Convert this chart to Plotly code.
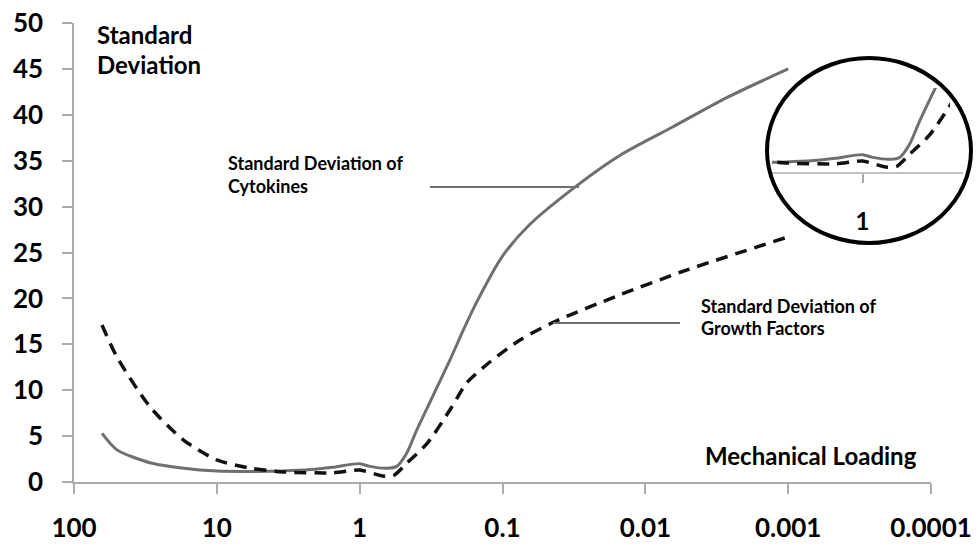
import plotly.graph_objects as go

W, H = 980, 549

# ---- data ----
cyto_x = [63.7, 50, 29.4, 17, 10, 5.8, 3.44, 2.2, 1.55, 1.0, 0.85, 0.64, 0.55, 0.47, 0.4,
          0.3, 0.23, 0.19, 0.155, 0.1, 0.065, 0.0295, 0.015, 0.0064, 0.00267, 0.001]
cyto_y = [5.3, 3.5, 2.1, 1.5, 1.2, 1.15, 1.2, 1.35, 1.6, 2.0, 1.7, 1.5, 1.7, 3.1, 5.6,
          9.7, 13.5, 16.4, 19.3, 24.6, 28.0, 32.4, 35.6, 38.7, 41.9, 45.0]

gf_x = [63.7, 50, 29.4, 17.2, 10, 5.8, 3.44, 1.55, 1.0, 0.69, 0.58, 0.465, 0.337, 0.23,
        0.178, 0.122, 0.075, 0.044, 0.015, 0.0051, 0.001]
gf_y = [17.1, 13.6, 8.2, 4.6, 2.4, 1.5, 1.1, 1.0, 1.3, 0.65, 0.7, 2.1, 4.2, 8.0,
        10.8, 13.1, 15.5, 17.4, 20.4, 23.1, 26.7]

x_tickvals = [100, 10, 1, 0.1, 0.01, 0.001, 0.0001]
x_ticktext = ["100", "10", "1", "0.1", "0.01", "0.001", "0.0001"]
y_tickvals = [0, 5, 10, 15, 20, 25, 30, 35, 40, 45, 50]

# ---- helpers (pixel -> paper) ----
def px(x):
    return x / W

def py(y):
    return (H - y) / H

FONT = "Lato"
AX_COL = "#ababab"
SOLID_COL = "#6f6f6f"

fig = go.Figure()

for xa, ya in [("x", "y"), ("x2", "y2")]:
    fig.add_trace(go.Scatter(x=cyto_x, y=cyto_y, mode="lines", xaxis=xa, yaxis=ya,
                             line=dict(color=SOLID_COL, width=3, shape="spline", smoothing=0.7),
                             showlegend=False, hoverinfo="skip"))
    fig.add_trace(go.Scatter(x=gf_x, y=gf_y, mode="lines", xaxis=xa, yaxis=ya,
                             line=dict(color="#111111", width=3.5, dash="12px,8px",
                                       shape="spline", smoothing=0.7),
                             showlegend=False, hoverinfo="skip"))

fig.update_layout(
    width=W, height=H,
    margin=dict(l=0, r=0, t=0, b=0),
    paper_bgcolor="white", plot_bgcolor="white",
    showlegend=False,
    xaxis=dict(type="log", range=[2, -4], domain=[px(74), px(931)],
               tickvals=x_tickvals, ticktext=x_ticktext,
               showgrid=False, zeroline=False, showline=True, linecolor=AX_COL, linewidth=1.5,
               ticks="outside", ticklen=10, tickcolor=AX_COL, tickwidth=1.5,
               tickfont=dict(family=FONT, size=26, color="black", weight="bold"),
               ticklabelstandoff=12, automargin=False, anchor="y"),
    yaxis=dict(range=[0, 50], domain=[py(482), py(23)],
               tickvals=y_tickvals,
               showgrid=False, zeroline=False, showline=True, linecolor=AX_COL, linewidth=1.5,
               ticks="outside", ticklen=10, tickcolor=AX_COL, tickwidth=1.5,
               tickfont=dict(family=FONT, size=26, color="black", weight="bold"),
               ticklabelstandoff=14, automargin=False, anchor="x"),
    xaxis2=dict(type="log", range=[0.634, -0.612], domain=[px(772), px(950)],
                tickvals=[1], ticktext=["1"],
                showgrid=False, zeroline=False, showline=False,
                ticks="outside", ticklen=9, tickcolor=AX_COL, tickwidth=1.5,
                tickfont=dict(family=FONT, size=24, color="black", weight="bold"),
                ticklabelstandoff=18, automargin=False, anchor="y2"),
    yaxis2=dict(range=[0, 9.26], domain=[py(173), py(88)],
                showgrid=False, zeroline=False, showline=False, showticklabels=False,
                ticks="", automargin=False, anchor="x2"),
)

# inset baseline and circle
fig.add_shape(type="line", xref="paper", yref="paper",
              x0=px(772), x1=px(963), y0=py(173), y1=py(173),
              line=dict(color=AX_COL, width=1.5))
fig.add_shape(type="circle", xref="paper", yref="paper",
              x0=px(767), x1=px(971), y0=py(243), y1=py(58),
              line=dict(color="black", width=4))

# leader lines
fig.add_shape(type="line", xref="paper", yref="paper",
              x0=px(430), x1=px(579), y0=py(187), y1=py(187),
              line=dict(color=SOLID_COL, width=2))
fig.add_shape(type="line", xref="paper", yref="paper",
              x0=px(553), x1=px(680), y0=py(323), y1=py(323),
              line=dict(color=SOLID_COL, width=2))

def label(text, x, y, size):
    fig.add_annotation(text=text, xref="paper", yref="paper", x=px(x), y=py(y),
                       xanchor="left", yanchor="middle", showarrow=False,
                       font=dict(family=FONT, size=size, color="black", weight="bold"))

label("Standard", 95, 34, 24)
label("Deviation", 95, 65, 24)
label("Standard Deviation of", 226, 163, 18)
label("Cytokines", 226, 186, 18)
label("Standard Deviation of", 699, 306, 18)
label("Growth Factors", 699, 328, 18)
label("Mechanical Loading", 703, 455, 24)

fig.write_html("out.html")
